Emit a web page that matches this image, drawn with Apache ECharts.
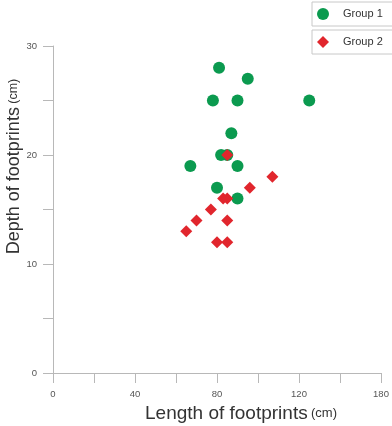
<!DOCTYPE html>
<html><head><meta charset="utf-8">
<script src="https://cdn.jsdelivr.net/npm/echarts@6/dist/echarts.min.js"></script>
<style>html,body{margin:0;padding:0;background:#fff}#c{width:392px;height:426px}</style>
</head><body><div id="c"></div>
<script>
const group1 = [[81,28],[95,27],[78,25],[90,25],[125,25],[87,22],[82,20],[85,20],[67,19],[90,19],[80,17],[90,16]];
const group2 = [[85,20],[107,18],[96,17],[83,16],[85,16],[77,15],[70,14],[85,14],[65,13],[80,12],[85,12]];
const xTickLabels = ['0','','40','','80','','120','','180'];
const yTickLabels = ['0','','10','','20','','30'];
const seriesNames = ['Group 1','Group 2'];

const axisColor = '#b8b8b8';
const chart = echarts.init(document.getElementById('c'), null, {renderer:'canvas'});
const legendBase = {
  orient:'horizontal', left:312, itemWidth:12, itemHeight:12,
  backgroundColor:'#fff', borderColor:'#c8c8c8', borderWidth:1, borderRadius:0,
  padding:[6,10,6,5],
  textStyle:{fontFamily:'Liberation Sans, Arial', fontSize:11, color:'#333', padding:[0,0,0,9]}
};
chart.setOption({
  animation:false,
  legend:[
    Object.assign({}, legendBase, {top:2, data:[seriesNames[0]]}),
    Object.assign({}, legendBase, {top:30, data:[seriesNames[1]]})
  ],
  grid:{left:53, right:11, top:46, bottom:53, containLabel:false, outerBoundsMode:'none'},
  xAxis:{
    type:'value', min:0, max:160, interval:20,
    splitLine:{show:false},
    axisLine:{show:true, onZero:false, lineStyle:{color:axisColor, width:1}},
    axisTick:{show:true, inside:false, length:10, lineStyle:{color:axisColor}},
    axisLabel:{margin:16, fontSize:9.5, color:'#555', fontFamily:'Liberation Sans, Arial',
      formatter:v => xTickLabels[Math.round(v/20)] || ''},
    name:'{m|Length of footprints} {s|(cm)}', nameLocation:'middle', nameGap:29,
    nameTextStyle:{padding:[0,0,0,48], rich:{
      m:{fontSize:19, color:'#333', fontFamily:'Liberation Sans, Arial'},
      s:{fontSize:13, color:'#333', fontFamily:'Liberation Sans, Arial'}}}
  },
  yAxis:{
    type:'value', min:0, max:30, interval:5,
    splitLine:{show:false},
    axisLine:{show:true, onZero:false, lineStyle:{color:axisColor, width:1}},
    axisTick:{show:true, inside:false, length:10, lineStyle:{color:axisColor}},
    axisLabel:{margin:16, fontSize:9.5, color:'#555', fontFamily:'Liberation Sans, Arial',
      formatter:v => yTickLabels[Math.round(v/5)] || ''},
    name:'{m|Depth of footprints} {s|(cm)}', nameLocation:'middle', nameGap:30, nameRotate:90,
    nameMoveOverlap:false,
    nameTextStyle:{padding:[0,0,0,86], rich:{
      m:{fontSize:18, color:'#333', fontFamily:'Liberation Sans, Arial'},
      s:{fontSize:12.5, color:'#333', fontFamily:'Liberation Sans, Arial'}}}
  },
  series:[
    {name:seriesNames[0], type:'scatter', symbol:'circle', symbolSize:12, data:group1,
     itemStyle:{color:'#0b9a4f', opacity:1}},
    {name:seriesNames[1], type:'scatter', symbol:'diamond', symbolSize:12, data:group2,
     itemStyle:{color:'#e1262d', opacity:1}}
  ]
});
</script></body></html>
